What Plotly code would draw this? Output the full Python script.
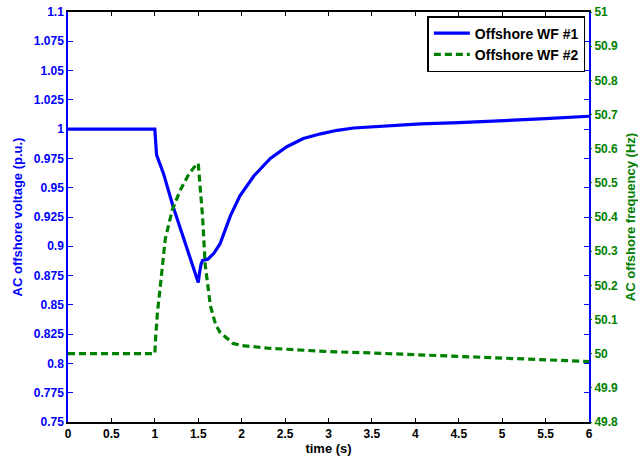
import plotly.graph_objects as go

# Offshore WF #1: AC voltage (p.u.), left axis
t1 = [0.0, 1.0, 1.005, 1.01, 1.02, 1.1, 1.21, 1.3, 1.4, 1.47, 1.5, 1.51, 1.53, 1.55, 1.61,
      1.68, 1.75, 1.87, 1.98, 2.14, 2.33, 2.52, 2.71, 2.91, 3.10, 3.29, 3.48, 3.68,
      3.87, 4.06, 4.5, 5.0, 5.5, 6.0]
v1 = [1.0, 1.0, 0.994, 0.985, 0.978, 0.962, 0.934, 0.914, 0.892, 0.876, 0.869, 0.875, 0.884,
      0.888, 0.889, 0.894, 0.902, 0.926, 0.943, 0.960, 0.975, 0.985, 0.992, 0.996, 0.999,
      1.001, 1.002, 1.003, 1.004, 1.0045, 1.0055, 1.007, 1.009, 1.011]

# Offshore WF #2: AC frequency (Hz), right axis
t2 = [0.0, 1.0, 1.01, 1.03, 1.06, 1.12, 1.2, 1.29, 1.39, 1.45, 1.5, 1.52, 1.55, 1.58,
      1.64, 1.70, 1.75, 1.9, 2.0, 2.3, 2.6, 3.0, 3.5, 4.0, 4.5, 5.0, 5.5, 6.0]
f2 = [50.0, 50.0, 50.05, 50.12, 50.19, 50.335, 50.42, 50.477, 50.525, 50.545, 50.557,
      50.5, 50.40, 50.26, 50.14, 50.085, 50.063, 50.03, 50.024, 50.016, 50.011, 50.006,
      50.002, 49.997, 49.993, 49.988, 49.983, 49.977]

x_ticks = [0, 0.5, 1, 1.5, 2, 2.5, 3, 3.5, 4, 4.5, 5, 5.5, 6]
x_labels = ["0", "0.5", "1", "1.5", "2", "2.5", "3", "3.5", "4", "4.5", "5", "5.5", "6"]
y1_ticks = [0.75, 0.775, 0.8, 0.825, 0.85, 0.875, 0.9, 0.925, 0.95, 0.975, 1.0, 1.025,
            1.05, 1.075, 1.1]
y1_labels = ["0.75", "0.775", "0.8", "0.825", "0.85", "0.875", "0.9", "0.925", "0.95",
             "0.975", "1", "1.025", "1.05", "1.075", "1.1"]
y2_ticks = [49.8, 49.9, 50.0, 50.1, 50.2, 50.3, 50.4, 50.5, 50.6, 50.7, 50.8, 50.9, 51.0]
y2_labels = ["49.8", "49.9", "50", "50.1", "50.2", "50.3", "50.4", "50.5", "50.6", "50.7",
             "50.8", "50.9", "51"]

BLUE = "#0000ff"
GREEN = "#008000"
FONT = "Liberation Sans, Arial, sans-serif"

fig = go.Figure()
fig.add_trace(go.Scatter(x=t1, y=v1, mode="lines", name="Offshore WF #1",
                         line=dict(color=BLUE, width=3.2), yaxis="y"))
fig.add_trace(go.Scatter(x=t2, y=f2, mode="lines", name="Offshore WF #2",
                         line=dict(color=GREEN, width=3.2, dash="7px,4px"), yaxis="y2"))

fig.update_layout(
    width=638, height=467,
    margin=dict(l=68, r=49, t=12, b=45, autoexpand=False),
    plot_bgcolor="white", paper_bgcolor="white",
    font=dict(family=FONT, size=12, color="black"),
    showlegend=True,
    legend=dict(x=0.993, y=0.99, xanchor="right", yanchor="top",
                bgcolor="white", bordercolor="black", borderwidth=1.5,
                font=dict(family=FONT, size=14, color="black", weight="bold"),
                tracegroupgap=0, itemwidth=36),
    xaxis=dict(range=[0, 6], tickvals=x_ticks, ticktext=x_labels, automargin=False,
               showgrid=False, zeroline=False,
               showline=True, linecolor="black", linewidth=1.5, mirror="ticks",
               ticks="inside", ticklen=4, tickcolor="black", tickwidth=1.2,
               tickfont=dict(family=FONT, size=12, color="black", weight="bold"),
               title=dict(text="time (s)", standoff=4,
                          font=dict(family=FONT, size=13, color="black", weight="bold"))),
    yaxis=dict(range=[0.75, 1.1], tickvals=y1_ticks, ticktext=y1_labels, automargin=False,
               showgrid=False, zeroline=False,
               showline=True, linecolor=BLUE, linewidth=1.5, mirror="ticks",
               ticks="inside", ticklen=5, tickcolor=BLUE, tickwidth=1.2,
               tickfont=dict(family=FONT, size=12, color=BLUE, weight="bold"),
               title=dict(text="AC offshore voltage (p.u.)", standoff=8,
                          font=dict(family=FONT, size=13, color=BLUE, weight="bold"))),
    yaxis2=dict(range=[49.8, 51.0], tickvals=y2_ticks, ticktext=y2_labels, automargin=False,
                overlaying="y", side="right", anchor="x",
                showgrid=False, zeroline=False, showline=False,
                ticks="outside", ticklen=2, tickcolor=GREEN, tickwidth=1,
                tickfont=dict(family=FONT, size=12, color=GREEN, weight="bold"),
                title=dict(text="AC offshore frequency (Hz)", standoff=8,
                           font=dict(family=FONT, size=13, color=GREEN, weight="bold"))),
)

fig.write_html("out.html")
